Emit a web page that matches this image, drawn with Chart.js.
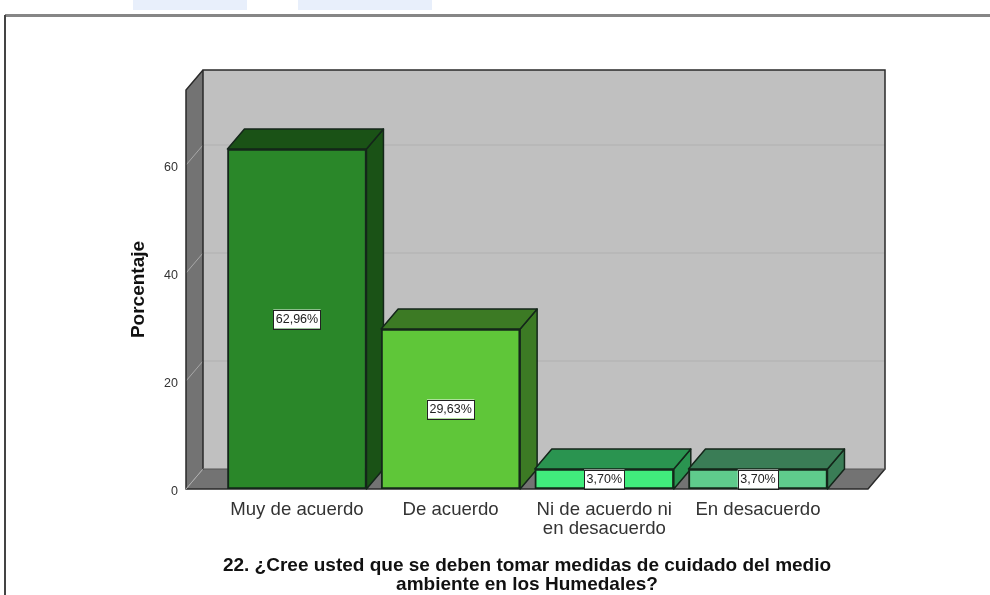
<!DOCTYPE html>
<html><head><meta charset="utf-8">
<style>
html,body{margin:0;padding:0;background:#fff;width:990px;height:595px;overflow:hidden}
#wrap{position:relative;width:990px;height:595px}
canvas{position:absolute;left:0;top:0}
.smudge{position:absolute;top:0;height:10px;background:#e8effb}
#frameT{position:absolute;left:5px;right:0;top:14px;height:3px;background:#868686}
#frameL{position:absolute;left:4px;top:15px;bottom:0;width:2px;background:#444}
</style></head><body>
<div id="wrap">
<div class="smudge" style="left:133px;width:114px"></div>
<div class="smudge" style="left:298px;width:134px"></div>
<div id="frameT"></div><div id="frameL"></div>
<canvas id="c" width="990" height="595"></canvas>
</div>
<script src="https://cdn.jsdelivr.net/npm/chart.js@4/dist/chart.umd.min.js"></script>
<script>
const categories=[["Muy de acuerdo"],["De acuerdo"],["Ni de acuerdo ni","en desacuerdo"],["En desacuerdo"]];
const values=[62.96,29.63,3.70,3.70];
const valueLabels=["62,96%","29,63%","3,70%","3,70%"];
const yTicks=[0,20,40,60];
const frontColors=["#2a8729","#5fc639","#41ec7c","#5fcb8c"];
const topColors=["#1a5216","#3c7a24","#2a9450","#3a7d56"];
const sideColors=["#1a5216","#3c7a24","#2a9450","#3a7d56"];
const yTitle="Porcentaje";
const xTitle=["22. ¿Cree usted que se deben tomar medidas de cuidado del medio","ambiente en los Humedales?"];
const DX=17,DY=-20,EDGE="#14261a",FONT='"Liberation Sans",Arial,sans-serif';

function poly(ctx,pts,fill,stroke,lw){
  ctx.beginPath();pts.forEach((p,i)=>i?ctx.lineTo(p[0],p[1]):ctx.moveTo(p[0],p[1]));ctx.closePath();
  if(fill){ctx.fillStyle=fill;ctx.fill();}
  if(stroke){ctx.strokeStyle=stroke;ctx.lineWidth=lw||1;ctx.lineJoin="round";ctx.stroke();}
}
const box3d={
  id:"box3d",
  beforeDatasetsDraw(chart){
    const {ctx,chartArea:a,scales:{y}}=chart;
    ctx.save();
    poly(ctx,[[a.left+DX,a.top+DY],[a.right+DX,a.top+DY],[a.right+DX,a.bottom+DY],[a.left+DX,a.bottom+DY]],"#c0c0c0");
    poly(ctx,[[a.left,a.top],[a.left+DX,a.top+DY],[a.left+DX,a.bottom+DY],[a.left,a.bottom]],"#737373");
    poly(ctx,[[a.left,a.bottom],[a.right,a.bottom],[a.right+DX,a.bottom+DY],[a.left+DX,a.bottom+DY]],"#737373");
    yTicks.slice(1).forEach(v=>{
      const p=y.getPixelForValue(v);
      ctx.beginPath();ctx.moveTo(a.left+DX,p+DY);ctx.lineTo(a.right+DX,p+DY);ctx.strokeStyle="#b6b6b6";ctx.lineWidth=1.5;ctx.stroke();
      ctx.beginPath();ctx.moveTo(a.left,p);ctx.lineTo(a.left+DX,p+DY);ctx.strokeStyle="#a8a8a8";ctx.lineWidth=1;ctx.stroke();
    });
    ctx.lineCap="square";ctx.strokeStyle="#2a2a2a";ctx.lineWidth=1.5;
    ctx.beginPath();
    ctx.moveTo(a.left,a.bottom);ctx.lineTo(a.left,a.top);ctx.lineTo(a.left+DX,a.top+DY);ctx.lineTo(a.right+DX,a.top+DY);
    ctx.lineTo(a.right+DX,a.bottom+DY);ctx.lineTo(a.right,a.bottom);ctx.lineTo(a.left,a.bottom);
    ctx.moveTo(a.left+DX,a.top+DY);ctx.lineTo(a.left+DX,a.bottom+DY);
    ctx.stroke();
    ctx.strokeStyle="#b0b0b0";ctx.lineWidth=1;
    ctx.beginPath();ctx.moveTo(a.left,a.bottom);ctx.lineTo(a.left+DX,a.bottom+DY);ctx.stroke();
    ctx.strokeStyle="#555";
    ctx.beginPath();ctx.moveTo(a.left+DX,a.bottom+DY);ctx.lineTo(a.right+DX,a.bottom+DY);ctx.stroke();
    chart.getDatasetMeta(0).data.forEach((b,i)=>{
      const L=b.x-b.width/2,R=b.x+b.width/2,T=b.y,B=b.base;
      poly(ctx,[[R,T],[R+DX,T+DY],[R+DX,B+DY],[R,B]],sideColors[i],EDGE,1.5);
      poly(ctx,[[L,T],[R,T],[R+DX,T+DY],[L+DX,T+DY]],topColors[i],EDGE,1.5);
    });
    ctx.restore();
  },
  afterDatasetsDraw(chart){
    const {ctx}=chart;
    ctx.save();
    ctx.font="12.5px "+FONT;ctx.textAlign="center";ctx.textBaseline="middle";
    chart.getDatasetMeta(0).data.forEach((b,i)=>{
      const t=valueLabels[i],w=ctx.measureText(t).width+5,h=19,cy=(b.y+b.base)/2;
      ctx.fillStyle="#fff";ctx.fillRect(b.x-w/2,cy-h/2,w,h);
      ctx.strokeStyle="#222";ctx.lineWidth=1;ctx.strokeRect(Math.round(b.x-w/2)+.5,Math.round(cy-h/2)+.5,Math.round(w),h);
      ctx.fillStyle="#222";ctx.fillText(t,b.x,cy+.5);
    });
    ctx.restore();
  }
};
new Chart(document.getElementById("c"),{
  type:"bar",
  data:{datasets:[{
    data:values.map((v,i)=>({x:i,y:v})),
    backgroundColor:frontColors,borderColor:EDGE,borderWidth:2,
    barThickness:139,borderSkipped:false
  }]},
  options:{
    responsive:false,animation:false,
    layout:{padding:{left:0,top:90,right:122,bottom:0}},
    plugins:{legend:{display:false},tooltip:{enabled:false},title:{display:false}},
    scales:{
      x:{type:"linear",offset:false,min:-0.722,max:3.716,
        grid:{display:false,offset:false},border:{display:false},
        afterBuildTicks(s){s.ticks=categories.map((_,i)=>({value:i}));},
        afterFit(s){s.height=106;},
        ticks:{autoSkip:false,maxRotation:0,padding:3,color:"#333",font:{family:FONT,size:18.6,lineHeight:1.05},
          callback:(v)=>categories[v]},
        title:{display:true,text:xTitle,color:"#111",font:{family:FONT,size:19,weight:"bold",lineHeight:1},padding:{top:0,bottom:1}}
      },
      y:{min:0,max:73.9,
        grid:{display:false},border:{display:false},
        afterBuildTicks(s){s.ticks=yTicks.map(v=>({value:v}));},
        afterFit(s){s.width=186;},
        ticks:{padding:0,labelOffset:2.5,color:"#333",font:{family:FONT,size:12.5}},
        title:{display:true,text:yTitle,color:"#111",font:{family:FONT,size:19,weight:"bold"},padding:{top:127.5,bottom:0}}
      }
    }
  },
  plugins:[box3d]
});
</script>
</body></html>
